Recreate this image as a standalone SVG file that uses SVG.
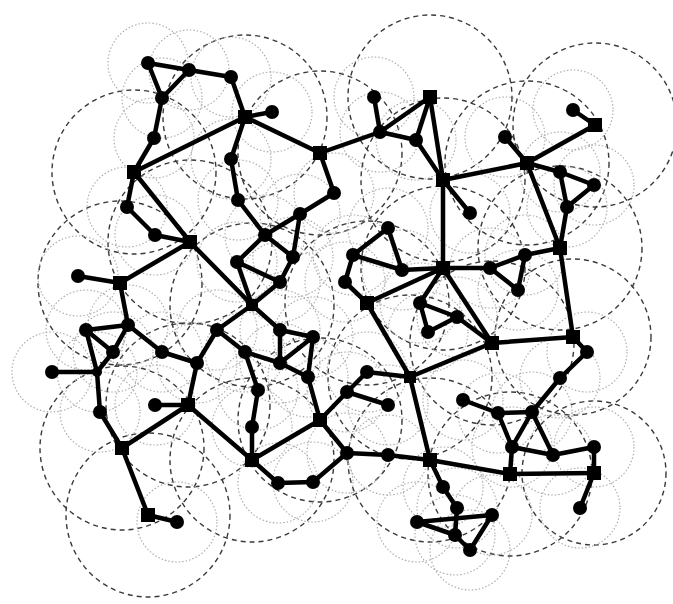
<svg xmlns="http://www.w3.org/2000/svg" width="673" height="604" viewBox="0 0 673 604">
<style>
.rd{fill:none;stroke:#3a3a3a;stroke-width:1.4;stroke-dasharray:5 4}
.rt{fill:none;stroke:#a8a8a8;stroke-width:1.1;stroke-dasharray:1.5 2}
.e line{stroke:#000;stroke-width:4.5;stroke-linecap:round}
.n circle{fill:#000}
.n rect{fill:#000}
</style>
<rect width="673" height="604" fill="#fff"/>
<g id="ranges">
<circle class="rd" cx="134" cy="172" r="82"/><circle class="rd" cx="245" cy="117" r="82"/><circle class="rd" cx="320" cy="153" r="82"/><circle class="rd" cx="430" cy="97" r="82"/><circle class="rd" cx="443" cy="180" r="82"/><circle class="rd" cx="595" cy="125" r="82"/><circle class="rd" cx="527" cy="163" r="82"/><circle class="rd" cx="190" cy="242" r="82"/><circle class="rd" cx="120" cy="283" r="82"/><circle class="rd" cx="443" cy="268" r="82"/><circle class="rd" cx="560" cy="248" r="82"/><circle class="rd" cx="367" cy="303" r="82"/><circle class="rd" cx="492" cy="343" r="82"/><circle class="rd" cx="573" cy="337" r="78"/><circle class="rd" cx="188" cy="405" r="82"/><circle class="rd" cx="122" cy="448" r="82"/><circle class="rd" cx="148" cy="515" r="82"/><circle class="rd" cx="252" cy="460" r="82"/><circle class="rd" cx="320" cy="420" r="82"/><circle class="rd" cx="430" cy="460" r="82"/><circle class="rd" cx="510" cy="474" r="82"/><circle class="rd" cx="594" cy="473" r="72"/><circle class="rd" cx="252" cy="305" r="82"/><circle class="rd" cx="410" cy="377" r="82"/>
<circle class="rt" cx="148" cy="63" r="40"/><circle class="rt" cx="189" cy="70" r="40"/><circle class="rt" cx="231" cy="77" r="40"/><circle class="rt" cx="162" cy="98" r="40"/><circle class="rt" cx="154" cy="138" r="40"/><circle class="rt" cx="272" cy="112" r="40"/><circle class="rt" cx="231" cy="159" r="40"/><circle class="rt" cx="238" cy="200" r="40"/><circle class="rt" cx="265" cy="235" r="40"/><circle class="rt" cx="300" cy="214" r="40"/><circle class="rt" cx="334" cy="193" r="40"/><circle class="rt" cx="293" cy="257" r="40"/><circle class="rt" cx="237" cy="262" r="40"/><circle class="rt" cx="280" cy="282" r="40"/><circle class="rt" cx="127" cy="207" r="40"/><circle class="rt" cx="155" cy="235" r="40"/><circle class="rt" cx="78" cy="276" r="40"/><circle class="rt" cx="128" cy="325" r="40"/><circle class="rt" cx="86" cy="330" r="40"/><circle class="rt" cx="113" cy="352" r="40"/><circle class="rt" cx="52" cy="372" r="40"/><circle class="rt" cx="97" cy="372" r="40"/><circle class="rt" cx="100" cy="412" r="40"/><circle class="rt" cx="162" cy="352" r="40"/><circle class="rt" cx="197" cy="363" r="40"/><circle class="rt" cx="217" cy="330" r="40"/><circle class="rt" cx="155" cy="405" r="40"/><circle class="rt" cx="177" cy="522" r="40"/><circle class="rt" cx="280" cy="330" r="40"/><circle class="rt" cx="313" cy="337" r="40"/><circle class="rt" cx="245" cy="352" r="40"/><circle class="rt" cx="280" cy="363" r="40"/><circle class="rt" cx="258" cy="390" r="40"/><circle class="rt" cx="252" cy="427" r="40"/><circle class="rt" cx="308" cy="377" r="40"/><circle class="rt" cx="278" cy="483" r="40"/><circle class="rt" cx="313" cy="482" r="40"/><circle class="rt" cx="347" cy="453" r="40"/><circle class="rt" cx="388" cy="455" r="40"/><circle class="rt" cx="347" cy="392" r="40"/><circle class="rt" cx="367" cy="372" r="40"/><circle class="rt" cx="388" cy="405" r="40"/><circle class="rt" cx="374" cy="97" r="40"/><circle class="rt" cx="380" cy="132" r="40"/><circle class="rt" cx="416" cy="140" r="40"/><circle class="rt" cx="470" cy="213" r="40"/><circle class="rt" cx="388" cy="228" r="40"/><circle class="rt" cx="353" cy="255" r="40"/><circle class="rt" cx="402" cy="270" r="40"/><circle class="rt" cx="345" cy="282" r="40"/><circle class="rt" cx="420" cy="303" r="40"/><circle class="rt" cx="457" cy="317" r="40"/><circle class="rt" cx="428" cy="332" r="40"/><circle class="rt" cx="490" cy="268" r="40"/><circle class="rt" cx="525" cy="255" r="40"/><circle class="rt" cx="518" cy="290" r="40"/><circle class="rt" cx="567" cy="207" r="40"/><circle class="rt" cx="573" cy="110" r="40"/><circle class="rt" cx="505" cy="137" r="40"/><circle class="rt" cx="560" cy="172" r="40"/><circle class="rt" cx="594" cy="185" r="40"/><circle class="rt" cx="587" cy="352" r="40"/><circle class="rt" cx="560" cy="378" r="40"/><circle class="rt" cx="463" cy="400" r="40"/><circle class="rt" cx="498" cy="413" r="40"/><circle class="rt" cx="532" cy="412" r="40"/><circle class="rt" cx="512" cy="447" r="40"/><circle class="rt" cx="553" cy="455" r="40"/><circle class="rt" cx="594" cy="447" r="40"/><circle class="rt" cx="580" cy="508" r="40"/><circle class="rt" cx="443" cy="487" r="40"/><circle class="rt" cx="457" cy="508" r="40"/><circle class="rt" cx="492" cy="515" r="40"/><circle class="rt" cx="417" cy="522" r="40"/><circle class="rt" cx="455" cy="535" r="40"/><circle class="rt" cx="470" cy="550" r="40"/>
</g>
<g id="connectors" class="e">
<line x1="148" y1="63" x2="189" y2="70"/><line x1="189" y1="70" x2="231" y2="77"/><line x1="148" y1="63" x2="162" y2="98"/><line x1="189" y1="70" x2="162" y2="98"/><line x1="162" y1="98" x2="154" y2="138"/><line x1="154" y1="138" x2="134" y2="172"/><line x1="134" y1="172" x2="245" y2="117"/><line x1="231" y1="77" x2="245" y2="117"/><line x1="245" y1="117" x2="272" y2="112"/><line x1="245" y1="117" x2="231" y2="159"/><line x1="245" y1="117" x2="320" y2="153"/><line x1="320" y1="153" x2="334" y2="193"/><line x1="320" y1="153" x2="380" y2="132"/><line x1="374" y1="97" x2="380" y2="132"/><line x1="380" y1="132" x2="430" y2="97"/><line x1="380" y1="132" x2="416" y2="140"/><line x1="416" y1="140" x2="430" y2="97"/><line x1="430" y1="97" x2="443" y2="180"/><line x1="416" y1="140" x2="443" y2="180"/><line x1="443" y1="180" x2="470" y2="213"/><line x1="443" y1="180" x2="443" y2="268"/><line x1="443" y1="180" x2="527" y2="163"/>
<line x1="573" y1="110" x2="595" y2="125"/><line x1="595" y1="125" x2="527" y2="163"/><line x1="505" y1="137" x2="527" y2="163"/><line x1="527" y1="163" x2="560" y2="172"/><line x1="560" y1="172" x2="594" y2="185"/><line x1="594" y1="185" x2="567" y2="207"/><line x1="560" y1="172" x2="567" y2="207"/><line x1="527" y1="163" x2="560" y2="248"/><line x1="567" y1="207" x2="560" y2="248"/><line x1="560" y1="248" x2="525" y2="255"/><line x1="525" y1="255" x2="490" y2="268"/><line x1="490" y1="268" x2="518" y2="290"/><line x1="525" y1="255" x2="518" y2="290"/><line x1="490" y1="268" x2="443" y2="268"/><line x1="560" y1="248" x2="573" y2="337"/><line x1="573" y1="337" x2="492" y2="343"/><line x1="573" y1="337" x2="587" y2="352"/><line x1="587" y1="352" x2="560" y2="378"/><line x1="560" y1="378" x2="532" y2="412"/>
<line x1="443" y1="268" x2="402" y2="270"/><line x1="388" y1="228" x2="353" y2="255"/><line x1="388" y1="228" x2="402" y2="270"/><line x1="353" y1="255" x2="402" y2="270"/><line x1="353" y1="255" x2="345" y2="282"/><line x1="345" y1="282" x2="367" y2="303"/><line x1="367" y1="303" x2="443" y2="268"/><line x1="367" y1="303" x2="410" y2="377"/><line x1="443" y1="268" x2="420" y2="303"/><line x1="420" y1="303" x2="457" y2="317"/><line x1="420" y1="303" x2="428" y2="332"/><line x1="428" y1="332" x2="457" y2="317"/><line x1="457" y1="317" x2="492" y2="343"/><line x1="443" y1="268" x2="492" y2="343"/><line x1="410" y1="377" x2="492" y2="343"/><line x1="410" y1="377" x2="367" y2="372"/><line x1="367" y1="372" x2="347" y2="392"/><line x1="347" y1="392" x2="388" y2="405"/><line x1="347" y1="392" x2="320" y2="420"/><line x1="410" y1="377" x2="430" y2="460"/>
<line x1="231" y1="159" x2="238" y2="200"/><line x1="238" y1="200" x2="265" y2="235"/><line x1="265" y1="235" x2="300" y2="214"/><line x1="300" y1="214" x2="334" y2="193"/><line x1="300" y1="214" x2="293" y2="257"/><line x1="265" y1="235" x2="293" y2="257"/><line x1="265" y1="235" x2="237" y2="262"/><line x1="237" y1="262" x2="280" y2="282"/><line x1="293" y1="257" x2="280" y2="282"/><line x1="237" y1="262" x2="252" y2="305"/><line x1="280" y1="282" x2="252" y2="305"/><line x1="134" y1="172" x2="190" y2="242"/><line x1="190" y1="242" x2="252" y2="305"/><line x1="134" y1="172" x2="127" y2="207"/><line x1="127" y1="207" x2="155" y2="235"/><line x1="155" y1="235" x2="190" y2="242"/><line x1="190" y1="242" x2="120" y2="283"/><line x1="78" y1="276" x2="120" y2="283"/><line x1="120" y1="283" x2="128" y2="325"/><line x1="86" y1="330" x2="128" y2="325"/><line x1="86" y1="330" x2="113" y2="352"/><line x1="128" y1="325" x2="113" y2="352"/><line x1="113" y1="352" x2="97" y2="372"/><line x1="52" y1="372" x2="97" y2="372"/><line x1="86" y1="330" x2="97" y2="372"/><line x1="97" y1="372" x2="100" y2="412"/><line x1="128" y1="325" x2="162" y2="352"/><line x1="162" y1="352" x2="197" y2="363"/><line x1="197" y1="363" x2="217" y2="330"/><line x1="197" y1="363" x2="188" y2="405"/><line x1="155" y1="405" x2="188" y2="405"/><line x1="100" y1="412" x2="122" y2="448"/><line x1="122" y1="448" x2="188" y2="405"/><line x1="188" y1="405" x2="252" y2="460"/><line x1="122" y1="448" x2="148" y2="515"/><line x1="148" y1="515" x2="177" y2="522"/>
<line x1="252" y1="305" x2="217" y2="330"/><line x1="252" y1="305" x2="280" y2="330"/><line x1="217" y1="330" x2="245" y2="352"/><line x1="280" y1="330" x2="313" y2="337"/><line x1="280" y1="330" x2="280" y2="363"/><line x1="245" y1="352" x2="280" y2="363"/><line x1="313" y1="337" x2="280" y2="363"/><line x1="245" y1="352" x2="258" y2="390"/><line x1="258" y1="390" x2="252" y2="427"/><line x1="252" y1="427" x2="252" y2="460"/><line x1="313" y1="337" x2="308" y2="377"/><line x1="280" y1="363" x2="308" y2="377"/><line x1="308" y1="377" x2="320" y2="420"/>
<line x1="252" y1="460" x2="320" y2="420"/><line x1="252" y1="460" x2="278" y2="483"/><line x1="278" y1="483" x2="313" y2="482"/><line x1="313" y1="482" x2="347" y2="453"/><line x1="320" y1="420" x2="347" y2="453"/><line x1="347" y1="453" x2="388" y2="455"/><line x1="388" y1="455" x2="430" y2="460"/><line x1="430" y1="460" x2="510" y2="474"/><line x1="430" y1="460" x2="443" y2="487"/><line x1="443" y1="487" x2="457" y2="508"/><line x1="457" y1="508" x2="455" y2="535"/><line x1="417" y1="522" x2="492" y2="515"/><line x1="417" y1="522" x2="455" y2="535"/><line x1="455" y1="535" x2="470" y2="550"/><line x1="492" y1="515" x2="470" y2="550"/>
<line x1="510" y1="474" x2="594" y2="473"/><line x1="510" y1="474" x2="512" y2="447"/><line x1="512" y1="447" x2="498" y2="413"/><line x1="512" y1="447" x2="532" y2="412"/><line x1="498" y1="413" x2="532" y2="412"/><line x1="463" y1="400" x2="498" y2="413"/><line x1="532" y1="412" x2="553" y2="455"/><line x1="512" y1="447" x2="553" y2="455"/><line x1="553" y1="455" x2="594" y2="447"/><line x1="594" y1="447" x2="594" y2="473"/><line x1="594" y1="473" x2="580" y2="508"/>
</g>
<g class="n">
<g id="c1"><circle cx="148" cy="63" r="7"/></g><g id="c2"><circle cx="189" cy="70" r="7"/></g><g id="c3"><circle cx="231" cy="77" r="7"/></g><g id="c4"><circle cx="162" cy="98" r="7"/></g><g id="c5"><circle cx="154" cy="138" r="7"/></g><g id="c6"><circle cx="272" cy="112" r="7"/></g><g id="c7"><circle cx="231" cy="159" r="7"/></g><g id="c8"><circle cx="238" cy="200" r="7"/></g><g id="c9"><circle cx="265" cy="235" r="7"/></g><g id="c10"><circle cx="300" cy="214" r="7"/></g><g id="c11"><circle cx="334" cy="193" r="7"/></g><g id="c12"><circle cx="293" cy="257" r="7"/></g><g id="c13"><circle cx="237" cy="262" r="7"/></g><g id="c14"><circle cx="280" cy="282" r="7"/></g><g id="c15"><circle cx="127" cy="207" r="7"/></g><g id="c16"><circle cx="155" cy="235" r="7"/></g><g id="c17"><circle cx="78" cy="276" r="7"/></g><g id="c18"><circle cx="128" cy="325" r="7"/></g><g id="c19"><circle cx="86" cy="330" r="7"/></g><g id="c20"><circle cx="113" cy="352" r="7"/></g><g id="c21"><circle cx="52" cy="372" r="7"/></g><g id="c22"><circle cx="97" cy="372" r="5"/></g><g id="c23"><circle cx="100" cy="412" r="7"/></g><g id="c24"><circle cx="162" cy="352" r="7"/></g><g id="c25"><circle cx="197" cy="363" r="7"/></g><g id="c26"><circle cx="217" cy="330" r="7"/></g><g id="c27"><circle cx="155" cy="405" r="7"/></g><g id="c28"><circle cx="177" cy="522" r="7"/></g><g id="c29"><circle cx="280" cy="330" r="7"/></g><g id="c30"><circle cx="313" cy="337" r="7"/></g><g id="c31"><circle cx="245" cy="352" r="7"/></g><g id="c32"><circle cx="280" cy="363" r="7"/></g><g id="c33"><circle cx="258" cy="390" r="7"/></g><g id="c34"><circle cx="252" cy="427" r="7"/></g><g id="c35"><circle cx="308" cy="377" r="7"/></g><g id="c36"><circle cx="278" cy="483" r="7"/></g><g id="c37"><circle cx="313" cy="482" r="7"/></g><g id="c38"><circle cx="347" cy="453" r="7"/></g><g id="c39"><circle cx="388" cy="455" r="7"/></g><g id="c40"><circle cx="347" cy="392" r="7"/></g><g id="c41"><circle cx="367" cy="372" r="7"/></g><g id="c42"><circle cx="388" cy="405" r="7"/></g><g id="c43"><circle cx="374" cy="97" r="7"/></g><g id="c44"><circle cx="380" cy="132" r="7"/></g><g id="c45"><circle cx="416" cy="140" r="7"/></g><g id="c46"><circle cx="470" cy="213" r="7"/></g><g id="c47"><circle cx="388" cy="228" r="7"/></g><g id="c48"><circle cx="353" cy="255" r="7"/></g><g id="c49"><circle cx="402" cy="270" r="7"/></g><g id="c50"><circle cx="345" cy="282" r="7"/></g><g id="c51"><circle cx="420" cy="303" r="7"/></g><g id="c52"><circle cx="457" cy="317" r="7"/></g><g id="c53"><circle cx="428" cy="332" r="7"/></g><g id="c54"><circle cx="490" cy="268" r="7"/></g><g id="c55"><circle cx="525" cy="255" r="7"/></g><g id="c56"><circle cx="518" cy="290" r="7"/></g><g id="c57"><circle cx="567" cy="207" r="7"/></g><g id="c58"><circle cx="573" cy="110" r="7"/></g><g id="c59"><circle cx="505" cy="137" r="7"/></g><g id="c60"><circle cx="560" cy="172" r="7"/></g><g id="c61"><circle cx="594" cy="185" r="7"/></g><g id="c62"><circle cx="587" cy="352" r="7"/></g><g id="c63"><circle cx="560" cy="378" r="7"/></g><g id="c64"><circle cx="463" cy="400" r="7"/></g><g id="c65"><circle cx="498" cy="413" r="7"/></g><g id="c66"><circle cx="532" cy="412" r="7"/></g><g id="c67"><circle cx="512" cy="447" r="7"/></g><g id="c68"><circle cx="553" cy="455" r="7"/></g><g id="c69"><circle cx="594" cy="447" r="7"/></g><g id="c70"><circle cx="580" cy="508" r="7"/></g><g id="c71"><circle cx="443" cy="487" r="7"/></g><g id="c72"><circle cx="457" cy="508" r="7"/></g><g id="c73"><circle cx="492" cy="515" r="7"/></g><g id="c74"><circle cx="417" cy="522" r="7"/></g><g id="c75"><circle cx="455" cy="535" r="7"/></g><g id="c76"><circle cx="470" cy="550" r="7"/></g>
<g id="s1"><rect x="127" y="165" width="14" height="14"/></g><g id="s2"><rect x="238" y="110" width="14" height="14"/></g><g id="s3"><rect x="313" y="146" width="14" height="14"/></g><g id="s4"><rect x="423" y="90" width="14" height="14"/></g><g id="s5"><rect x="436" y="173" width="14" height="14"/></g><g id="s6"><rect x="588" y="118" width="14" height="14"/></g><g id="s7"><rect x="520" y="156" width="14" height="14"/></g><g id="s8"><rect x="183" y="235" width="14" height="14"/></g><g id="s9"><rect x="113" y="276" width="14" height="14"/></g><g id="s10"><rect x="436" y="261" width="14" height="14"/></g><g id="s11"><rect x="553" y="241" width="14" height="14"/></g><g id="s12"><rect x="360" y="296" width="14" height="14"/></g><g id="s13"><rect x="485" y="336" width="14" height="14"/></g><g id="s14"><rect x="566" y="330" width="14" height="14"/></g><g id="s15"><rect x="181" y="398" width="14" height="14"/></g><g id="s16"><rect x="115" y="441" width="14" height="14"/></g><g id="s17"><rect x="141" y="508" width="14" height="14"/></g><g id="s18"><rect x="245" y="453" width="14" height="14"/></g><g id="s19"><rect x="313" y="413" width="14" height="14"/></g><g id="s20"><rect x="423" y="453" width="14" height="14"/></g><g id="s21"><rect x="503" y="467" width="14" height="14"/></g><g id="s22"><rect x="587" y="466" width="14" height="14"/></g><g id="s23"><rect x="246" y="299" width="12" height="12"/></g><g id="s24"><rect x="404" y="371" width="12" height="12"/></g>
</g>
</svg>
